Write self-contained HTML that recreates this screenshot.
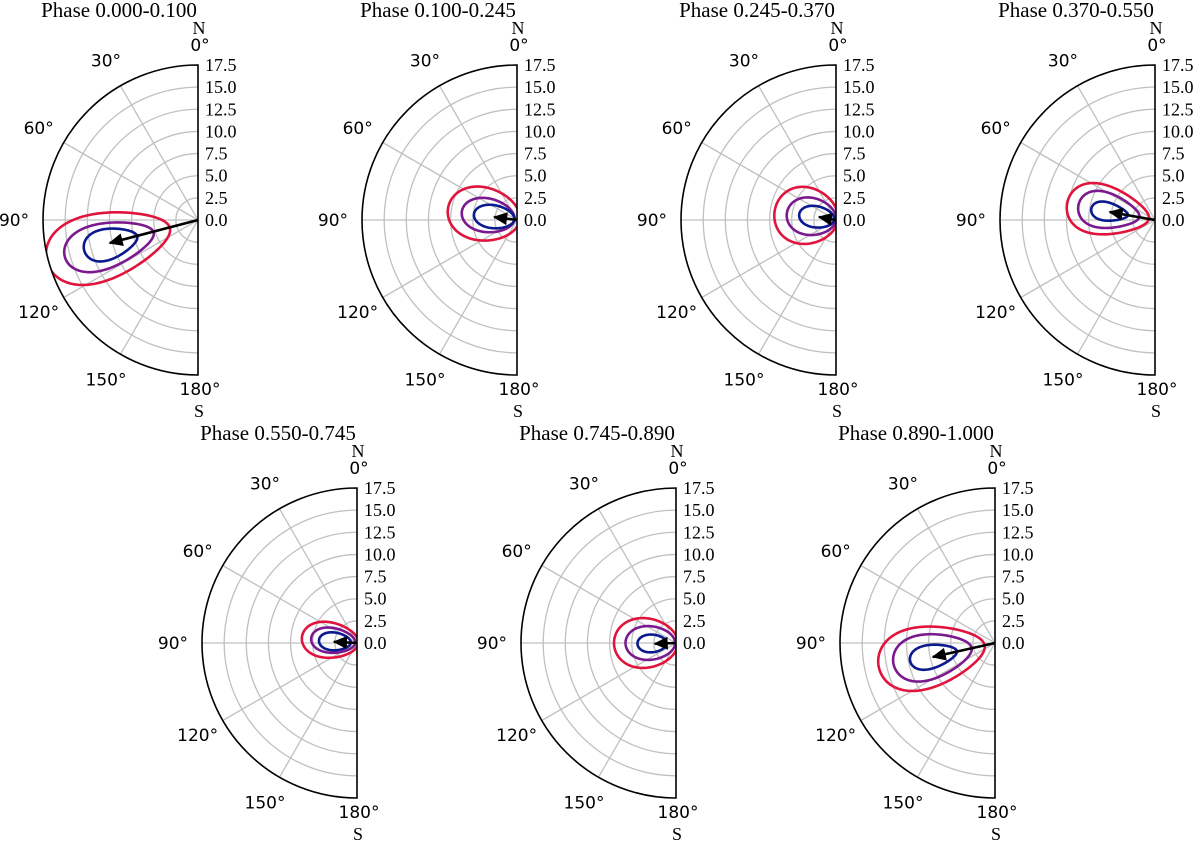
<!DOCTYPE html>
<html><head><meta charset="utf-8"><style>
html,body{margin:0;padding:0;background:#fff;}
svg{display:block;}
.ttl{font-family:"Liberation Serif",serif;font-size:21px;fill:#000;}
.rt{font-family:"Liberation Serif",serif;font-size:18px;fill:#000;}
.at{font-family:"DejaVu Sans","Liberation Sans",sans-serif;font-size:17px;fill:#000;}
.ns{font-family:"Liberation Serif",serif;font-size:18px;fill:#000;}
</style></head><body>
<svg id="fig" width="1200" height="845" viewBox="0 0 1200 845" xmlns="http://www.w3.org/2000/svg"></svg>
<script>
const titles=["Phase 0.000-0.100","Phase 0.100-0.245","Phase 0.245-0.370","Phase 0.370-0.550","Phase 0.550-0.745","Phase 0.745-0.890","Phase 0.890-1.000"];
const rTicks=[0,2.5,5,7.5,10,12.5,15,17.5];
const rTickLabels=["0.0","2.5","5.0","7.5","10.0","12.5","15.0","17.5"];
const angTicks=[30,60,90,120,150];
const arrowAngle=[104.6,82.6,80,80,87,92,102.7];
const arrowMag=[10.3,2.6,1.95,5.2,2.6,2.4,7.2];
// contour ellipses: center angle (deg), center radius, half-length, half-width, taper ; for red, purple, blue
const redAng=[105.5,80,82,79,84,90,101.7];
const redR=[10.5,3.8,3.4,5.4,3.05,3.4,7.3];
const redA=[7.2,4.1,3.6,4.7,3.2,3.6,6.1];
const redB=[3.7,3.0,3.2,2.7,2.0,2.8,3.4];
const purAng=[105.5,81,82,79,84,90,101.7];
const purR=[10.4,3.3,2.8,5.3,2.7,2.9,7.2];
const purA=[5.2,3.0,2.8,3.5,2.5,2.8,4.5];
const purB=[2.5,1.9,2.1,1.95,1.4,1.9,2.5];
const bluAng=[105,82,81,80,86,91,102];
const bluR=[10.2,2.6,2.2,5.2,2.5,2.7,7.1];
const bluA=[3.1,2.3,2.0,2.1,1.8,1.65,2.7];
const bluB=[1.7,1.3,1.2,1.0,1.0,1.0,1.3];
const taper=[0.3,0.1,0.1,0.35,0.15,0.1,0.3];

const cx=[198,517,836,1155,357,676,995];
const cy=[220,220,220,220,643,643,643];
const R=155, RMAX=17.5, S=R/RMAX;
const NS="http://www.w3.org/2000/svg";
const fig=document.getElementById('fig');
function mk(tag,attrs,parent){const e=document.createElementNS(NS,tag);for(const k in attrs)e.setAttribute(k,attrs[k]);(parent||fig).appendChild(e);return e;}
function pt(i,ang,r){const t=ang*Math.PI/180;return [cx[i]-r*S*Math.sin(t),cy[i]-r*S*Math.cos(t)];}
function contour(i,ang,r,a,b,k){
  const t0=ang*Math.PI/180;const ux=-Math.sin(t0),uy=-Math.cos(t0);const vx=-uy,vy=ux;
  const [ox,oy]=pt(i,ang,r);let d="";
  for(let j=0;j<=120;j++){const t=j/120*2*Math.PI;const u=a*Math.cos(t)*S;const v=b*Math.sin(t)*(1+k*Math.cos(t))*S;
    const x=ox+u*ux+v*vx,y=oy+u*uy+v*vy;d+=(j?"L":"M")+x.toFixed(2)+" "+y.toFixed(2);}
  return d+"Z";
}
const defs=mk('defs',{});
const mkr=mk('marker',{id:'ah',markerWidth:'6',markerHeight:'6',refX:'5',refY:'3',orient:'auto',markerUnits:'strokeWidth'},defs);
mk('path',{d:'M0,0.5 L5.5,3 L0,5.5 Z',fill:'#000'},mkr);
for(let i=0;i<7;i++){
  const g=mk('g',{});
  
  
  const cp=mk('clipPath',{id:'cp'+i},defs);
  mk('path',{d:`M${cx[i]} ${cy[i]-R} A${R} ${R} 0 0 0 ${cx[i]} ${cy[i]+R} Z`},cp);
  rTicks.slice(1,-1).forEach(r=>{const e=mk('path',{d:`M${cx[i]} ${cy[i]-r*S} A${r*S} ${r*S} 0 0 0 ${cx[i]} ${cy[i]+r*S}`,fill:'none',stroke:'#c0c0c0','stroke-width':1.3},g);
    });
  angTicks.forEach(a=>{const [x,y]=pt(i,a,RMAX);const e=mk('line',{x1:cx[i],y1:cy[i],x2:x,y2:y,stroke:'#c0c0c0','stroke-width':1.3},g);
    });
  const cg=mk('g',{'clip-path':`url(#cp${i})`},g);
  [[redAng,redR,redA,redB,'#e0143c','red-contour'],[purAng,purR,purA,purB,'#7b1a8f','purple-contour'],[bluAng,bluR,bluA,bluB,'#0b1a8e','blue-contour']].forEach(c=>{
    const e=mk('path',{d:contour(i,c[0][i],c[1][i],c[2][i],c[3][i],taper[i]),fill:'none',stroke:c[4],'stroke-width':2.6},cg);
    });
  const [ax,ay]=pt(i,arrowAngle[i],arrowMag[i]);
  const ar=mk('line',{x1:cx[i],y1:cy[i],x2:ax,y2:ay,stroke:'#000','stroke-width':2.6,'marker-end':'url(#ah)'},g);
  
  const fr=mk('path',{d:`M${cx[i]} ${cy[i]-R} A${R} ${R} 0 0 0 ${cx[i]} ${cy[i]+R} Z`,fill:'none',stroke:'#000','stroke-width':1.6},g);
  
  rTicks.forEach((r,j)=>{const t=mk('text',{x:cx[i]+7,y:cy[i]-r*S+6,class:'rt'},g);t.textContent=rTickLabels[j];
    });
  angTicks.forEach(a=>{const t0=a*Math.PI/180;const x=cx[i]-184*Math.sin(t0),y=cy[i]-184*Math.cos(t0)+6;
    const t=mk('text',{x:x,y:y,class:'at','text-anchor':'middle'},g);t.textContent=a+'°';
    });
  let t=mk('text',{x:cx[i]+2,y:cy[i]-169,class:'at','text-anchor':'middle'},g);t.textContent='0°';
  
  t=mk('text',{x:cx[i]+2,y:cy[i]+175,class:'at','text-anchor':'middle'},g);t.textContent='180°';
  
  t=mk('text',{x:cx[i]+1,y:cy[i]-186,class:'ns','text-anchor':'middle'},g);t.textContent='N';
  
  t=mk('text',{x:cx[i]+1,y:cy[i]+197,class:'ns','text-anchor':'middle'},g);t.textContent='S';
  
  t=mk('text',{x:cx[i]-79,y:cy[i]-203,class:'ttl','text-anchor':'middle'},g);t.textContent=titles[i];
  
}
</script>
</body></html>
